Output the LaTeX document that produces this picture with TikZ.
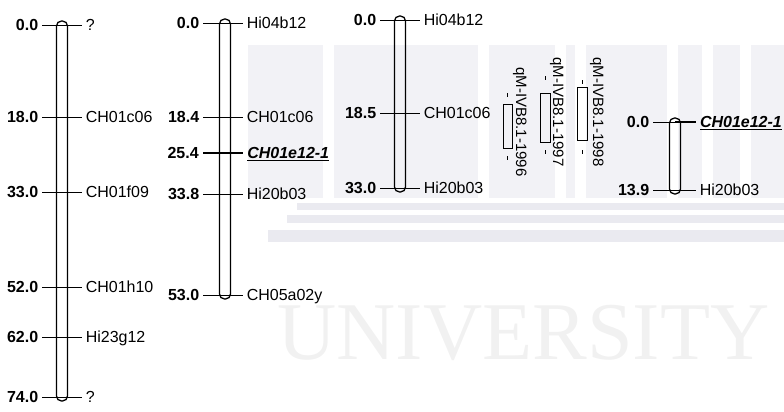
\documentclass[tikz,border=0pt]{standalone}
\usepackage{fontspec}
\setmainfont{Liberation Sans}
\newfontfamily\wmfont{Liberation Serif}
\definecolor{wmgray}{RGB}{242,242,246}
\definecolor{wmstep}{RGB}{234,234,240}
\tikzset{
  lbl/.style={text height=11.5pt,text depth=0pt,inner ysep=1pt},
  cmpos/.style={lbl,font=\fontsize{16}{18}\selectfont\bfseries},
  chrom/.style={line width=1.3pt,rounded corners=5pt},
  key/.style={line width=2pt},
  keyname/.style={lbl,font=\fontsize{16}{18}\selectfont\bfseries\itshape},
  qtl/.style={line width=0.8pt},
  qlbl/.style={rotate=-90,anchor=base west,inner sep=0pt,font=\fontsize{15}{15}\selectfont},
}
\begin{document}
\begin{tikzpicture}[x=1pt,y=-1pt,line width=0.9pt,font=\fontsize{16}{18}\selectfont]
\useasboundingbox(0,0)rectangle(784,412);
\begin{scope}[draw=none]
\fill[wmgray](248,45)rectangle(784,198);
\foreach \x in {323,478,555,575,667,702,740}\fill[white](\x,45)rectangle(\x+11,198);
\fill[wmstep](297,203)rectangle(784,210);
\fill[wmstep](287,215)rectangle(784,223);
\fill[wmstep](268,230)rectangle(784,242);
\node[anchor=base west,inner sep=0pt,text=gray!11,font=\wmfont\fontsize{82}{82}\selectfont](uni) at (277,359){UNIVERSITY};
\end{scope}
\begin{scope}[xshift=62pt]
\draw[chrom](-5.5,21)rectangle(5.5,401);
\draw(-20,25)node[left,cmpos](c1p0){0.0}--(20,25)node[right,lbl](c1m0){?};
\draw(-20,117)node[left,cmpos](c1p1){18.0}--(20,117)node[right,lbl](c1m1){CH01c06};
\draw(-20,192)node[left,cmpos](c1p2){33.0}--(20,192)node[right,lbl](c1m2){CH01f09};
\draw(-20,287)node[left,cmpos](c1p3){52.0}--(20,287)node[right,lbl](c1m3){CH01h10};
\draw(-20,337)node[left,cmpos](c1p4){62.0}--(20,337)node[right,lbl](c1m4){Hi23g12};
\draw(-20,397)node[left,cmpos](c1p5){74.0}--(20,397)node[right,lbl](c1m5){?};
\end{scope}
\begin{scope}[xshift=225pt]
\draw[chrom](-5.5,19)rectangle(5.5,299);
\draw(-22,23)node[left,cmpos](c2p0){0.0}--(18,23)node[right,lbl](c2m0){Hi04b12};
\draw(-22,117)node[left,cmpos](c2p1){18.4}--(18,117)node[right,lbl](c2m1){CH01c06};
\draw[key](-22,153)node[left,cmpos](c2p2){25.4}--(18,153)node[right,keyname](c2m2){\underline{CH01e12-1}};
\draw(-22,194)node[left,cmpos](c2p3){33.8}--(18,194)node[right,lbl](c2m3){Hi20b03};
\draw(-22,295)node[left,cmpos](c2p4){53.0}--(18,295)node[right,lbl](c2m4){CH05a02y};
\end{scope}
\begin{scope}[xshift=400pt]
\draw[chrom](-5.5,16)rectangle(5.5,192);
\draw(-20,20)node[left,cmpos](c3p0){0.0}--(20,20)node[right,lbl](c3m0){Hi04b12};
\draw(-20,113)node[left,cmpos](c3p1){18.5}--(20,113)node[right,lbl](c3m1){CH01c06};
\draw(-20,188)node[left,cmpos](c3p2){33.0}--(20,188)node[right,lbl](c3m2){Hi20b03};
\end{scope}
\draw[qtl](503,104)rectangle(512,148);
\draw[qtl](507.5,93)--(507.5,97) (507.5,156)--(507.5,160);
\node[qlbl](q96) at (516,67){qM-IVB8.1-1996};
\draw[qtl](540,93)rectangle(550,142);
\draw[qtl](545,76)--(545,80) (545,150)--(545,154);
\node[qlbl](q97) at (553,57){qM-IVB8.1-1997};
\draw[qtl](577,87)rectangle(587,140);
\draw[qtl](582,80)--(582,84) (582,150)--(582,154);
\node[qlbl](q98) at (593,57){qM-IVB8.1-1998};
\begin{scope}[xshift=675pt]
\draw[chrom](-5.5,118)rectangle(5.5,194);
\draw(-22,122)node[left,cmpos](c4p0){0.0}--(0,122);
\draw[key](0,122)--(21,122)node[right,keyname,inner sep=3pt](c4m0){\underline{CH01e12-1}};
\draw(-22,190)node[left,cmpos](c4p1){13.9}--(21,190)node[right,lbl](c4m1){Hi20b03};
\end{scope}
\end{tikzpicture}
\end{document}
